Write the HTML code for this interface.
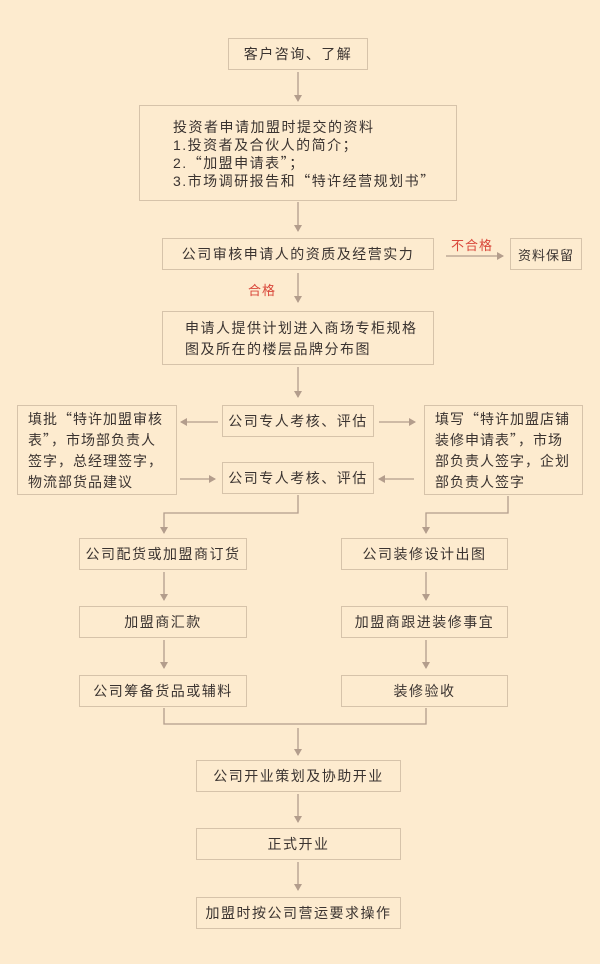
<!DOCTYPE html>
<html><head><meta charset="utf-8"><style>
*{margin:0;padding:0;box-sizing:border-box}
body{width:600px;height:964px;background:#fdebcf;position:relative;overflow:hidden;font-family:"Liberation Sans","Noto Sans CJK SC",sans-serif;color:#3a3330;font-size:14px}
.q{font-family:"Noto Sans CJK SC",sans-serif}
.b{position:absolute;border:1.5px solid #d6c3aa;display:flex;align-items:center;justify-content:center;letter-spacing:1.5px;white-space:nowrap}
.l{justify-content:flex-start;align-items:flex-start;flex-direction:column;line-height:21px}
.r{position:absolute;color:#d9473a;font-size:13px;letter-spacing:1px}
svg{position:absolute;left:0;top:0}
</style></head><body>
<svg width="600" height="964" stroke="#b39d8c" stroke-width="1.3" fill="none">
<defs><marker id="a" markerWidth="8" markerHeight="8" refX="6" refY="4" orient="auto" markerUnits="userSpaceOnUse"><path d="M0,0 L7,4 L0,8 Z" fill="#b39d8c" stroke="none"/></marker></defs>
<g marker-end="url(#a)">
<path d="M298 72V101"/><path d="M298 202V231"/><path d="M298 273V302"/><path d="M298 367V397"/>
<path d="M446 256H503"/>
<path d="M218 422H181"/><path d="M379 422H415"/><path d="M180 479H215"/><path d="M414 479H379"/>
<path d="M298 495V513H164V533"/><path d="M508 496V513H426V533"/>
<path d="M164 572V600"/><path d="M164 640V668"/><path d="M426 572V600"/><path d="M426 640V668"/>
<path d="M298 728V755"/><path d="M298 794V822"/><path d="M298 862V890"/>
</g>
<path d="M164 708V724H426V708"/>
</svg>
<div class="b" style="left:228px;top:38px;width:140px;height:32px">客户咨询、了解</div>
<div class="b l" style="left:139px;top:105px;width:318px;height:96px;padding:12px 0 0 33px;line-height:18px">
<div>投资者申请加盟时提交的资料</div><div>1.投资者及合伙人的简介；</div><div>2.<span class="q">“</span>加盟申请表<span class="q">”</span>；</div><div>3.市场调研报告和<span class="q">“</span>特许经营规划书<span class="q">”</span></div></div>
<div class="b" style="left:162px;top:238px;width:272px;height:32px">公司审核申请人的资质及经营实力</div>
<div class="r" style="left:451px;top:235px">不合格</div>
<div class="b" style="left:510px;top:238px;width:72px;height:32px;font-size:13px;letter-spacing:1px">资料保留</div>
<div class="r" style="left:248px;top:280px">合格</div>
<div class="b l" style="left:162px;top:311px;width:272px;height:54px;padding:6px 0 0 22px;line-height:21px">
<div>申请人提供计划进入商场专柜规格</div><div>图及所在的楼层品牌分布图</div></div>
<div class="b" style="left:222px;top:405px;width:152px;height:32px">公司专人考核、评估</div>
<div class="b" style="left:222px;top:462px;width:152px;height:32px">公司专人考核、评估</div>
<div class="b l" style="left:17px;top:405px;width:160px;height:90px;padding:3px 0 0 10px;line-height:21px;letter-spacing:1px">
<div>填批<span class="q">“</span>特许加盟审核</div><div>表<span class="q">”</span>，市场部负责人</div><div>签字，总经理签字，</div><div>物流部货品建议</div></div>
<div class="b l" style="left:424px;top:405px;width:159px;height:90px;padding:3px 0 0 10px;line-height:21px;letter-spacing:1px">
<div>填写<span class="q">“</span>特许加盟店铺</div><div>装修申请表<span class="q">”</span>，市场</div><div>部负责人签字，企划</div><div>部负责人签字</div></div>
<div class="b" style="left:79px;top:538px;width:168px;height:32px">公司配货或加盟商订货</div>
<div class="b" style="left:79px;top:606px;width:168px;height:32px">加盟商汇款</div>
<div class="b" style="left:79px;top:675px;width:168px;height:32px">公司筹备货品或辅料</div>
<div class="b" style="left:341px;top:538px;width:167px;height:32px">公司装修设计出图</div>
<div class="b" style="left:341px;top:606px;width:167px;height:32px">加盟商跟进装修事宜</div>
<div class="b" style="left:341px;top:675px;width:167px;height:32px">装修验收</div>
<div class="b" style="left:196px;top:760px;width:205px;height:32px">公司开业策划及协助开业</div>
<div class="b" style="left:196px;top:828px;width:205px;height:32px">正式开业</div>
<div class="b" style="left:196px;top:897px;width:205px;height:32px">加盟时按公司营运要求操作</div>
</body></html>
